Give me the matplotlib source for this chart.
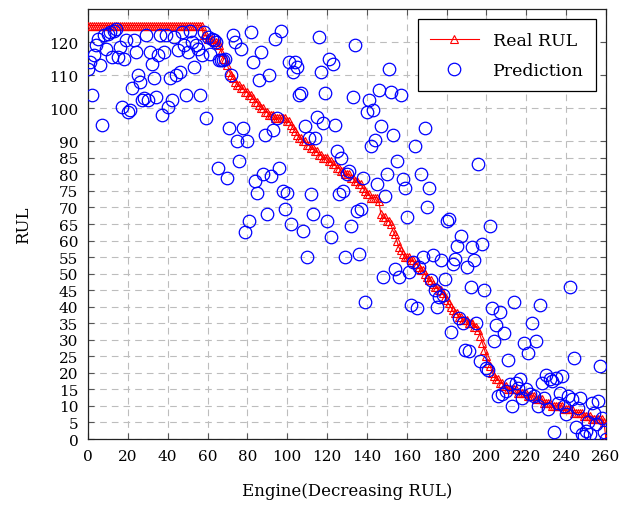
import matplotlib
matplotlib.use("Agg")
import matplotlib.pyplot as plt

plt.rcParams["font.family"] = ["DejaVu Serif"]

# Real RUL of the test engines, sorted in decreasing order
real_rul = [
    125, 125, 125, 125, 125, 125, 125, 125, 125, 125,
    125, 125, 125, 125, 125, 125, 125, 125, 125, 125,
    125, 125, 125, 125, 125, 125, 125, 125, 125, 125,
    125, 125, 125, 125, 125, 125, 125, 125, 125, 125,
    125, 125, 125, 125, 125, 125, 125, 125, 125, 125,
    125, 125, 125, 125, 125, 125, 125, 125, 122, 122,
    121, 121, 121, 120, 120, 120, 119, 117, 115, 115,
    113, 111, 110, 109, 108, 107, 107, 106, 106, 105,
    105, 104, 104, 103, 102, 102, 101, 100, 100, 99,
    99, 98, 98, 98, 97, 97, 97, 97, 97, 97,
    96, 96, 95, 94, 93, 92, 91, 91, 90, 90,
    89, 89, 88, 88, 87, 87, 86, 86, 85, 85,
    85, 84, 84, 83, 83, 82, 82, 81, 81, 80,
    80, 80, 79, 79, 78, 78, 77, 77, 76, 75,
    74, 74, 73, 73, 73, 73, 72, 68, 67, 67,
    66, 66, 65, 63, 62, 60, 58, 57, 56, 55,
    55, 55, 54, 54, 53, 53, 52, 51, 51, 50,
    49, 48, 48, 47, 46, 46, 45, 45, 44, 43,
    42, 41, 40, 39, 38, 38, 37, 37, 36, 36,
    36, 35, 35, 35, 34, 34, 33, 31, 29, 27,
    25, 23, 22, 20, 19, 18, 18, 17, 17, 16,
    16, 15, 15, 15, 15, 15, 14, 14, 14, 14,
    14, 13, 13, 13, 13, 12, 12, 12, 12, 11,
    11, 11, 11, 10, 10, 10, 10, 10, 10, 9,
    9, 9, 9, 9, 8, 8, 8, 8, 8, 7,
    7, 7, 7, 6, 6, 6, 6, 6, 6, 5,
    0,
]

# Predicted RUL for the same engines
prediction = [
    112, 114, 104, 116, 119, 121, 113, 95, 122, 118,
    122.5, 123, 115.5, 123.5, 124, 115.5, 118.5, 100.5, 115, 120.5,
    99, 99.5, 106, 120.5, 117, 110, 108, 102.5, 103, 122,
    102.5, 117, 113.5, 109, 103.5, 116, 122, 98, 117, 122,
    100.5, 109, 102.5, 121.5, 110, 117.5, 111, 123, 119, 104,
    117, 123.5, 120, 112.5, 119, 118, 104, 116, 123, 97,
    121.5, 116.5, 121, 120.5, 120, 82, 114.5, 114.5, 114.5, 115,
    79, 94, 110, 122, 120, 90, 84, 118, 94, 62.5,
    90, 66, 123, 114, 78, 74.5, 108.5, 117, 80, 92,
    68, 110, 79.5, 93.5, 121, 97, 82, 123.5, 75, 69.5,
    74.5, 114, 65, 111, 114, 112.5, 104, 104.5, 63, 94.5,
    55, 91, 74, 68, 91, 97.5, 121.5, 111, 95.5, 104.5,
    66, 115, 61, 113.5, 95, 87, 74, 85, 75, 55,
    80, 81, 64.5, 103.5, 119, 69, 56, 69.5, 79, 41.5,
    99, 102.5, 88.5, 99.5, 90.5, 77, 105.5, 94.5, 49, 73.5,
    80, 112, 105, 92, 51.5, 84, 49, 104, 78.5, 76,
    67, 50.5, 40.5, 53.5, 88.5, 39.5, 52, 80, 55, 94,
    70, 76, 48, 55.5, 45, 40, 43, 54, 43.5, 48.5,
    66, 66.5, 32.5, 53, 54.5, 58.5, 36.5, 61.5, 35, 27,
    52, 26.5, 46, 58, 54, 35, 83, 23.5, 59, 45,
    21.5, 21, 64.5, 39.5, 29.5, 34.5, 13, 38.5, 13.5, 32,
    14.5, 24, 16.5, 10, 41.5, 17, 15.5, 18, 12.5, 29,
    15, 26, 13.5, 35, 13, 29.5, 10, 40.5, 17, 12.5,
    19.5, 9, 18, 17.5, 2, 18.5, 11, 14, 19, 10,
    7.5, 13, 46, 12, 24.5, 3.5, 9.5, 12.5, 1.5, 1,
    2.5, 5, 1.5, 11, 8, 4.5, 11.5, 22, 6.5, 2,
    0,
]

engines = list(range(len(real_rul)))
x_ticks = [0, 20, 40, 60, 80, 100, 120, 140, 160, 180, 200, 220, 240, 260]
y_ticks = [0, 5, 10, 15, 20, 25, 30, 35, 40, 45, 50, 55, 60, 65, 70, 75, 80,
           85, 90, 100, 110, 120]

fig = plt.figure(figsize=(6.26, 5.06), dpi=100)
ax = fig.add_axes([0.1406, 0.1304, 0.8274, 0.8498])

ax.plot(engines, real_rul, color="red", linewidth=0.8, marker="^",
        markersize=6, markerfacecolor="none", markeredgewidth=0.8,
        label="Real RUL", zorder=3)
ax.plot(engines, prediction, linestyle="none", marker="o", markersize=9,
        markerfacecolor="none", markeredgecolor="blue", markeredgewidth=0.9,
        label="Prediction", zorder=4)

ax.set_xlim(0, 260)
ax.set_ylim(0, 130)
ax.set_xticks(x_ticks)
ax.set_yticks(y_ticks)
ax.grid(True, color="#bdbdbd", linestyle=(0, (6, 4.5)), linewidth=0.8)
ax.set_axisbelow(True)
ax.tick_params(direction="in", top=True, right=True, length=4.5, width=0.8,
               color="#555555", labelsize=11, pad=7)
for s in ax.spines.values():
    s.set_color("#222222")
    s.set_linewidth(0.9)

ax.set_xlabel("Engine(Decreasing RUL)", fontsize=12, labelpad=14)
ax.set_ylabel("RUL", fontsize=12, labelpad=12)

leg = ax.legend(loc="upper right", fontsize=12.5, fancybox=False,
                edgecolor="black", framealpha=1, borderaxespad=0.6,
                borderpad=0.7, labelspacing=0.75, handlelength=2.8,
                handletextpad=0.8)
leg.get_frame().set_linewidth(0.9)

fig.savefig("out.png", dpi=100)
